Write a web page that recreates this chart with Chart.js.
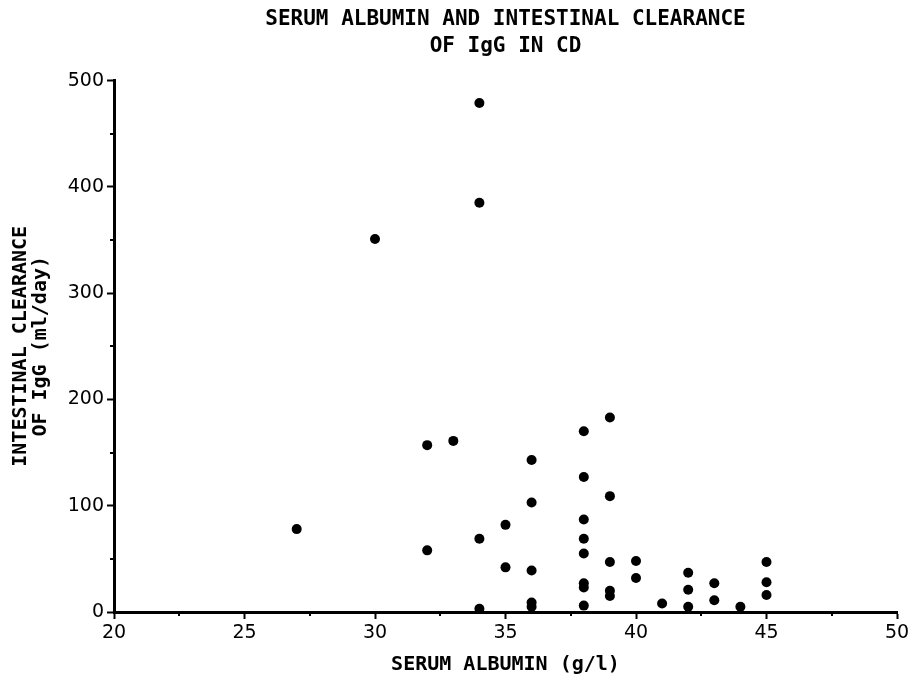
<!DOCTYPE html>
<html>
<head>
<meta charset="utf-8">
<script src="https://cdn.jsdelivr.net/npm/chart.js@4/dist/chart.umd.min.js"></script>
<style>
  html, body { margin: 0; padding: 0; background: #ffffff; }
  #wrap { width: 921px; height: 688px; }
</style>
</head>
<body>
<div id="wrap"><canvas id="c" width="921" height="688"></canvas></div>
<script>
// Serum albumin (g/l)
const albumin = [27,30,32,32,33,34,34,34,34,35,35,36,36,36,36,36,38,38,38,38,38,38,38,38,39,39,39,39,39,40,40,41,42,42,42,43,43,44,45,45,45];
// Intestinal clearance of IgG (ml/day)
const clearance = [78,351,157,58,161,479,385,69,3,82,42,143,103,39,9,5,170,127,87,69,55,27,23,6,183,109,47,20,15,48,32,8,37,21,5,27,11,5,47,28,16];

const titleLines = ['SERUM ALBUMIN AND INTESTINAL CLEARANCE', 'OF IgG IN CD'];
const xTitle = 'SERUM ALBUMIN (g/l)';
const yTitleLines = ['INTESTINAL CLEARANCE', 'OF IgG (ml/day)'];
const xMin = 20, xMax = 50, xStep = 5;
const yMin = 0, yMax = 500, yStep = 100;
const xMinorTicks = [22.5, 27.5, 32.5, 37.5, 42.5, 47.5];
const yMinorTicks = [50, 150, 250, 350, 450];

const points = albumin.map((a, i) => ({ x: a, y: clearance[i] }));

const minorTicks = {
  id: 'minorTicks',
  afterDraw(chart) {
    const ctx = chart.ctx;
    const xs = chart.scales.x, ys = chart.scales.y;
    const area = chart.chartArea;
    ctx.save();
    ctx.strokeStyle = '#000';
    ctx.lineWidth = 2;
    ctx.beginPath();
    yMinorTicks.forEach(v => {
      const py = Math.round(ys.getPixelForValue(v));
      ctx.moveTo(area.left, py);
      ctx.lineTo(area.left - 4, py);
    });
    xMinorTicks.forEach(v => {
      const px = Math.round(xs.getPixelForValue(v));
      ctx.moveTo(px, area.bottom);
      ctx.lineTo(px, area.bottom + 4);
    });
    ctx.stroke();
    ctx.restore();
  }
};

const monoFont = 'DejaVu Sans Mono';
const tickFont = { family: 'DejaVu Sans', size: 19 };

new Chart(document.getElementById('c'), {
  type: 'scatter',
  data: {
    datasets: [{
      data: points,
      backgroundColor: '#000',
      borderColor: '#000',
      borderWidth: 0,
      pointRadius: 5,
      pointHoverRadius: 5
    }]
  },
  options: {
    responsive: false,
    animation: false,
    layout: { padding: { left: 0, right: 24, top: 0, bottom: 0 } },
    plugins: {
      legend: { display: false },
      tooltip: { enabled: false },
      title: {
        display: true,
        text: titleLines,
        fullSize: false,
        color: '#000',
        font: { family: monoFont, size: 21, weight: 'bold', lineHeight: 1.3 },
        padding: { top: 6, bottom: 20 }
      }
    },
    scales: {
      x: {
        type: 'linear',
        position: 'bottom',
        min: xMin, max: xMax,
        ticks: { stepSize: xStep, color: '#000', font: tickFont, padding: 3, maxRotation: 0 },
        grid: { display: true, drawOnChartArea: false, drawTicks: true, tickLength: 7, tickColor: '#000', tickWidth: 2 },
        border: { display: true, color: '#000', width: 3 },
        title: {
          display: true, text: xTitle, color: '#000',
          font: { family: monoFont, size: 20, weight: 'bold', lineHeight: 1.2 },
          padding: { top: 0, bottom: 11 }
        },
        afterFit(s) { s.height = 76; }
      },
      y: {
        type: 'linear',
        position: 'left',
        min: yMin, max: yMax,
        ticks: { stepSize: yStep, color: '#000', font: tickFont, padding: 3 },
        grid: { display: true, drawOnChartArea: false, drawTicks: true, tickLength: 7, tickColor: '#000', tickWidth: 2 },
        border: { display: true, color: '#000', width: 3 },
        title: {
          display: true, text: yTitleLines, color: '#000',
          font: { family: monoFont, size: 20, weight: 'bold', lineHeight: 1.0 },
          padding: { top: 11, bottom: 0 }
        },
        afterFit(s) { s.width = 114; }
      }
    }
  },
  plugins: [minorTicks]
});
</script>
</body>
</html>
